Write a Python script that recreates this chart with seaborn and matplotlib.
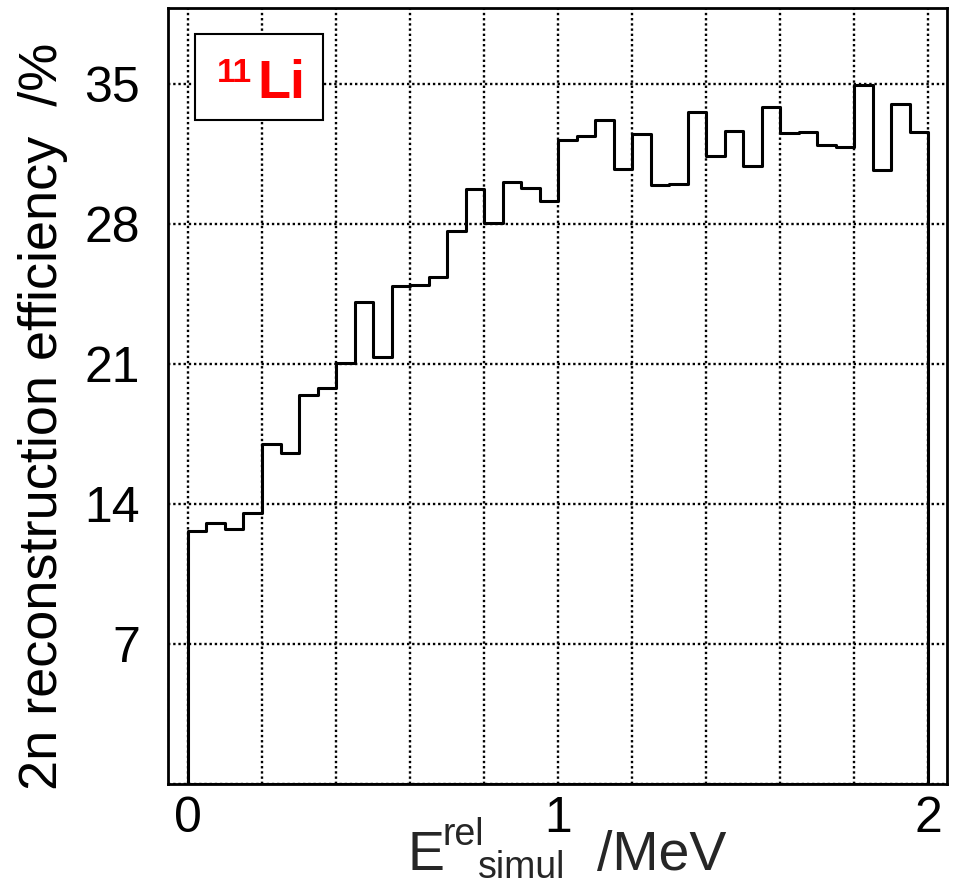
import numpy as np
import pandas as pd
import matplotlib
matplotlib.use("Agg")
import matplotlib.pyplot as plt
import seaborn as sns
from matplotlib.ticker import MultipleLocator, FuncFormatter
from matplotlib.patches import Rectangle

# ---- data ----
bin_edges = np.linspace(0.0, 2.0, 41)          # 40 bins of 0.05 MeV
bin_centers = 0.5 * (bin_edges[:-1] + bin_edges[1:])
efficiency = [12.65, 13.05, 12.75, 13.55, 17.00, 16.55, 19.45, 19.80, 21.05, 24.10,
              21.37, 24.90, 24.95, 25.33, 27.67, 29.75, 28.05, 30.12, 29.78, 29.17,
              32.20, 32.38, 33.18, 30.75, 32.48, 29.95, 30.00, 33.58, 31.40, 32.67,
              30.90, 33.87, 32.53, 32.62, 31.95, 31.83, 34.95, 30.70, 33.98, 32.62]
x_tick_labels = ["0", "1", "2"]
y_tick_labels = ["7", "14", "21", "28", "35"]

df = pd.DataFrame({"E": bin_centers, "eff": efficiency})

sns.set_style("white")
plt.rcParams["font.family"] = ["Liberation Sans", "DejaVu Sans"]

W, H = 954, 885
fig = plt.figure(figsize=(W / 100, H / 100), dpi=100)
L, R, T, B = 168, 947, 8, 784
ax = fig.add_axes([L / W, 1 - B / H, (R - L) / W, (B - T) / H])

sns.histplot(data=df, x="E", weights="eff", bins=list(bin_edges), element="step",
             fill=True, color="black", facecolor="none", edgecolor="black",
             linewidth=2.2, ax=ax, zorder=3)

ax.set_xlim(-0.054, 2.051)
ax.set_ylim(0, 38.8)
ax.set_xlabel("")
ax.set_ylabel("")

ax.xaxis.set_major_locator(MultipleLocator(0.2))
ax.xaxis.set_minor_locator(MultipleLocator(0.1))
ax.yaxis.set_major_locator(MultipleLocator(7))
ax.yaxis.set_minor_locator(MultipleLocator(1.75))


def xfmt(v, pos):
    r = round(v)
    if abs(v - r) < 1e-6 and str(int(r)) in x_tick_labels:
        return str(int(r))
    return ""


def yfmt(v, pos):
    r = int(round(v))
    return str(r) if str(r) in y_tick_labels and abs(v - r) < 1e-6 else ""


ax.xaxis.set_major_formatter(FuncFormatter(xfmt))
ax.yaxis.set_major_formatter(FuncFormatter(yfmt))

ax.tick_params(axis="both", which="both", direction="in", top=False, right=False,
               colors="black", width=1.4)
ax.tick_params(axis="x", which="major", length=11.5, labelsize=36, pad=9)
ax.tick_params(axis="x", which="minor", length=4.3)
ax.tick_params(axis="y", which="major", length=13.5, labelsize=36, pad=20)
ax.tick_params(axis="y", which="minor", length=6)

ax.set_axisbelow(True)
ax.grid(True, which="major", color="black", linestyle=(0, (1, 1.2)), linewidth=1.7)
for s in ax.spines.values():
    s.set_color("black")
    s.set_linewidth(2.0)

# y label
fig.text(18 / W, 1 - 790 / H, "2n reconstruction efficiency  /%", rotation=90,
         ha="left", va="bottom", fontsize=39, color="black")

# x label
fig.text(408 / W, 1 - 870 / H, "E", fontsize=40, ha="left", va="baseline")
fig.text(443 / W, 1 - 845 / H, "rel", fontsize=27, ha="left", va="baseline")
fig.text(478 / W, 1 - 878 / H, "simul", fontsize=27, ha="left", va="baseline")
fig.text(597 / W, 1 - 870 / H, "/MeV", fontsize=40, ha="left", va="baseline")

# label box
fig.patches.append(Rectangle((195 / W, 1 - 120 / H), (323 - 195) / W, (120 - 34) / H,
                             transform=fig.transFigure, facecolor="white",
                             edgecolor="black", linewidth=1.5, zorder=5))
fig.text(217 / W, 1 - 82 / H, "11", fontsize=24, fontweight="bold", color="#ff0000",
         ha="left", va="baseline", zorder=6)
fig.text(257 / W, 1 - 98 / H, "Li", fontsize=39, fontweight="bold", color="#ff0000",
         ha="left", va="baseline", zorder=6)

fig.savefig("out.png", dpi=100)
